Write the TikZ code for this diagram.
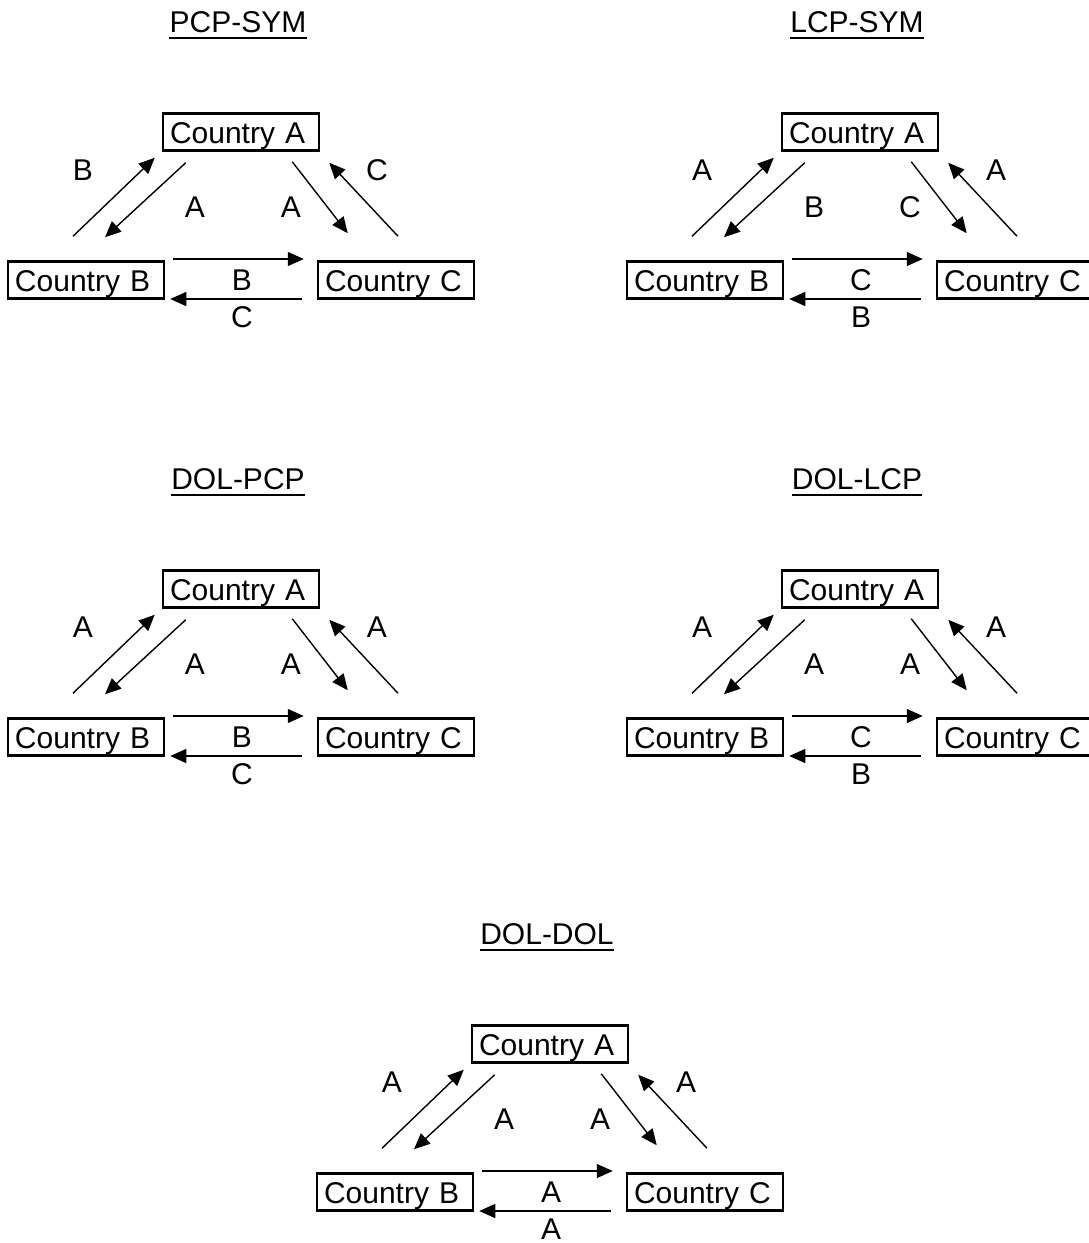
\documentclass[tikz,border=0pt]{standalone}
\usepackage{fontspec}
\setmainfont{Liberation Sans}
\usepackage{tikz}
\usetikzlibrary{arrows.meta}

\begin{document}
\begin{tikzpicture}[x=1pt, y=-1pt,
  every node/.style={font=\fontsize{30}{36}\selectfont},
  box/.style={draw, line width=2.5pt, text width=142pt, inner xsep=7pt, inner ysep=0pt, minimum height=37pt,
    text height=22pt, text depth=0pt, align=left},
  heading/.style={inner sep=0pt, anchor=base},
  lbl/.style={inner sep=0pt},
  arrow/.style={-{Triangle[length=16pt, width=14pt]}, line width=1.4pt}
]
  \useasboundingbox (0,0) rectangle (1088,1243);

  % one panel per scheme: offset, title, then the six flow labels
  \foreach \px/\py/\ttl/\la/\lb/\lc/\ld/\le/\lf in {
      0/0/PCP-SYM/B/A/A/C/B/C,
      619/0/LCP-SYM/A/B/C/A/C/B,
      0/457/DOL-PCP/A/A/A/A/B/C,
      619/457/DOL-LCP/A/A/A/A/C/B,
      309/912/DOL-DOL/A/A/A/A/A/A}{
    \begin{scope}[shift={(\px,\py)}]
      \node[heading] (t) at (238,32) {\ttl};
      \draw[line width=2pt] ([shift={(0,6)}]t.base west) -- ([shift={(0,6)}]t.base east);

      \node[box] (a) at (241,132) {Country A};
      \node[box] (b) at (86,280) {Country B};
      \node[box] (c) at (396,280) {Country C};

      \draw[arrow] ([shift={(-13,-24)}]b.north) -- ([shift={(-7,6)}]a.south west);
      \draw[arrow] ([shift={(24,11)}]a.south west) -- ([shift={(19,-23)}]b.north);
      \draw[arrow] ([shift={(-28,10)}]a.south east) -- ([shift={(31,-27)}]c.north west);
      \draw[arrow] ([shift={(2,-24)}]c.north) -- ([shift={(9,11)}]a.south east);
      \draw[arrow] ([shift={(8,-21)}]b.east) -- ([shift={(-13,-21)}]c.west);
      \draw[arrow] ([shift={(-15,19)}]c.west) -- ([shift={(5,19)}]b.east);

      \node[lbl] (l1) at (83,170) {\la};
      \node[lbl] (l2) at (195,207) {\lb};
      \node[lbl] (l3) at (291,207) {\lc};
      \node[lbl] (l4) at (377,170) {\ld};
      \node[lbl] (l5) at (242,280) {\le};
      \node[lbl] (l6) at (242,317) {\lf};
    \end{scope}
  }
\end{tikzpicture}
\end{document}
